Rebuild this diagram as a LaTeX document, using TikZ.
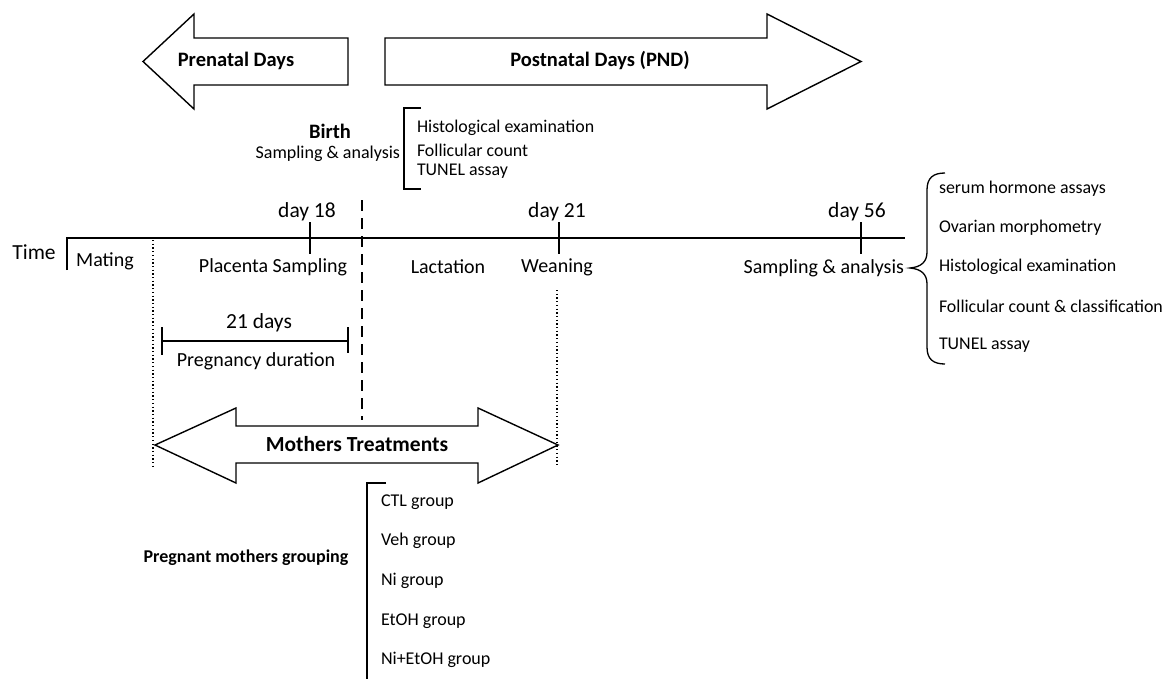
\documentclass[tikz,border=0pt]{standalone}
\usepackage{fontspec}
\setmainfont{Carlito}
\begin{document}
\begin{tikzpicture}[x=1pt,y=-1pt,
  every node/.style={inner sep=0pt, outer sep=0pt},
  fr/.style={font=\fontsize{20}{24}\selectfont},
  fd/.style={font=\fontsize{21.5}{26}\selectfont},
  fl/.style={font=\fontsize{17.9}{21}\selectfont, anchor=west},
  fg/.style={font=\fontsize{18}{21}\selectfont, anchor=west},
  fb/.style={font=\fontsize{20.5}{24}\selectfont\bfseries},
  outline/.style={draw=black, line width=1.4pt, fill=white, line join=miter},
  axis/.style={line width=2.6pt},
  brk/.style={line width=1.8pt},
  dotline/.style={line width=2pt, dash pattern=on 1.3pt off 2.4pt},
  birthline/.style={line width=2.8pt, dash pattern=on 11pt off 7pt},
]
\useasboundingbox (0,0) rectangle (1164,678);

% top arrows
\draw[outline] (348,38) -- (194,38) -- (194,14) -- (143,61.5) -- (194,109) -- (194,85) -- (348,85) -- cycle;
\node[fb] (pre) at (236,61) {Prenatal Days};
\draw[outline] (385,38) -- (767,38) -- (767,14) -- (861,61.5) -- (767,109) -- (767,85) -- (385,85) -- cycle;
\node[fb] (post) at (600,61) {Postnatal Days (PND)};

% birth block
\node[fb] (birth) at (330,131) {Birth};
\node[anchor=east, font=\fontsize{18}{21}\selectfont] (bsa) at (400,154) {Sampling \& analysis};
\draw[brk] (421,108) -- (404,108) -- (404,189) -- (421,189);
\node[fl] (b1) at (417,128) {Histological examination};
\node[fl] (b2) at (417,150) {Follicular count};
\node[fl] (b3) at (417,171) {TUNEL assay};

% timeline
\draw[axis] (67,270) -- (67,238) -- (905,238);
\node[fd] (time) at (34,252) {Time};
\node[fr] (mating) at (105,261) {Mating};
\draw[axis] (310,222) -- (310,254);
\draw[axis] (559,222) -- (559,254);
\draw[axis] (861,222) -- (861,254);
\node[fd] (d18) at (307,212) {day 18};
\node[fd] (d21) at (557,212) {day 21};
\node[fd] (d56) at (857,212) {day 56};
\node[fr] (plac) at (273,267) {Placenta Sampling};
\node[fr] (lact) at (448,267) {Lactation};
\node[fr] (wean) at (557,267) {Weaning};
\node[fr, anchor=east] (sa) at (904,268) {Sampling \& analysis};

% vertical guides
\draw[birthline] (362,200) -- (362,420);
\draw[dotline] (153,240) -- (153,468);
\draw[dotline] (557,290) -- (557,466);

% right brace and list
\draw[line width=1.3pt] (945,173) .. controls (933,173) and (927,178) .. (927,190) -- (927,252)
  .. controls (927,262) and (921,267) .. (910,268)
  .. controls (921,269) and (927,274) .. (927,284) -- (927,347)
  .. controls (927,359) and (933,364) .. (945,364);
\node[fl] (r1) at (939,189) {serum hormone assays};
\node[fl] (r2) at (939,228) {Ovarian morphometry};
\node[fl] (r3) at (939,267) {Histological examination};
\node[fl] (r4) at (939,306) {Follicular count \& classification};
\node[fl] (r5) at (939,345) {TUNEL assay};

% pregnancy duration
\draw[brk] (162,341) -- (348,341);
\draw[brk] (162,327) -- (162,355);
\draw[brk] (348,327) -- (348,353);
\node[fd] (d21d) at (259,323) {21 days};
\node[fr] (preg) at (256,361) {Pregnancy duration};

% mothers treatments arrow
\draw[outline] (155,445) -- (236,408) -- (236,426) -- (478,426) -- (478,408) -- (558,445)
  -- (478,483) -- (478,463) -- (236,463) -- (236,483) -- cycle;
\node[font=\fontsize{21.5}{26}\selectfont\bfseries] (mt) at (357,444) {Mothers Treatments};

% grouping
\node[font=\fontsize{18}{21}\selectfont\bfseries] (pmg) at (246,558) {Pregnant mothers grouping};
\draw[brk] (386,483) -- (367,483) -- (367,680);
\node[fg] (g1) at (381,502) {CTL group};
\node[fg] (g2) at (381,541) {Veh group};
\node[fg] (g3) at (381,581) {Ni group};
\node[fg] (g4) at (381,621) {EtOH group};
\node[fg] (g5) at (381,660) {Ni+EtOH group};
\end{tikzpicture}
\end{document}
